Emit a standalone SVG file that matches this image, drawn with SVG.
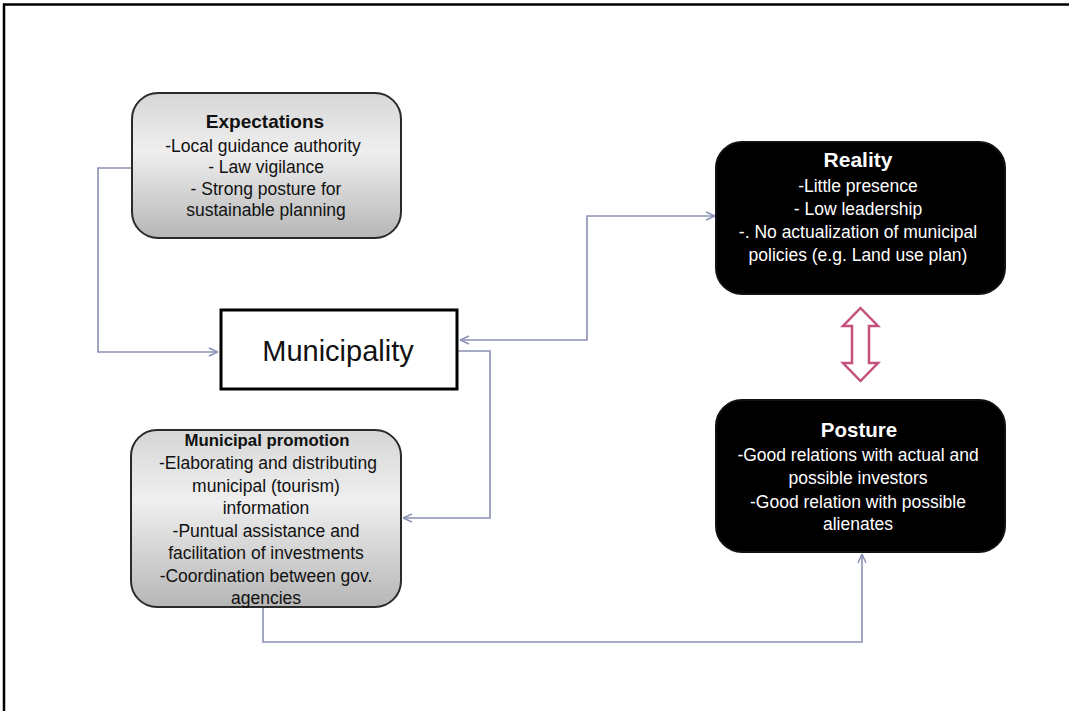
<svg xmlns="http://www.w3.org/2000/svg" width="1069" height="711" viewBox="0 0 1069 711">
<style>
.t{font-family:"Liberation Sans",Arial,sans-serif;font-size:17.5px;text-anchor:middle}
.b{font-weight:bold}
.dk{fill:#111}
.wt{fill:#fff}
.grey{fill:url(#g);stroke:#2a2a2a;stroke-width:2}
.blk{fill:#000;stroke:#111;stroke-width:2}
.con{fill:none;stroke:#8c90b4;stroke-width:1.6}
</style>
<defs>
<linearGradient id="g" x1="0" y1="0" x2="0" y2="1">
<stop offset="0" stop-color="#d6d6d6"/>
<stop offset="0.4" stop-color="#efefef"/>
<stop offset="1" stop-color="#b6b6b6"/>
</linearGradient>
<marker id="a" viewBox="0 0 10 10" refX="10" refY="5" markerWidth="10" markerHeight="10" markerUnits="userSpaceOnUse" orient="auto-start-reverse">
<path d="M1,1 L10,5 L1,9" fill="none" stroke="#8c90b4" stroke-width="1.4"/>
</marker>
</defs>
<rect x="0" y="0" width="1069" height="711" fill="#fff"/>
<path d="M4,711 V4.5 H1069" fill="none" stroke="#000" stroke-width="2.5"/>
<g id="connectors">
<path class="con" d="M132,168 H98 V352 H218" marker-end="url(#a)"/>
<path class="con" d="M460,340 H587 V216 H715" marker-start="url(#a)" marker-end="url(#a)"/>
<path class="con" d="M458,351 H490 V518 H403" marker-end="url(#a)"/>
<path class="con" d="M263,608 V642 H862 V554" marker-end="url(#a)"/>
<path id="double-arrow" d="M860.5,308 L878,326 L869,326 L869,363 L878,363 L860.5,381 L843,363 L852,363 L852,326 L843,326 Z" fill="#fff" stroke="#c4507c" stroke-width="2.5" stroke-linejoin="miter"/>
</g>
<g id="expectations">
<rect class="grey" x="132" y="93" width="269" height="145" rx="26"/>
<text class="t b dk" x="265" y="128" style="font-size:19px">Expectations</text>
<text class="t dk" x="263" y="152">-Local guidance authority</text>
<text class="t dk" x="266" y="173">- Law vigilance</text>
<text class="t dk" x="266" y="195">- Strong posture for</text>
<text class="t dk" x="266" y="216">sustainable planning</text>
</g>
<g id="municipality">
<rect x="221" y="310" width="236" height="79" fill="#fff" stroke="#000" stroke-width="3"/>
<text class="t dk" x="338" y="361" style="font-size:29px">Municipality</text>
</g>
<g id="promotion">
<rect class="grey" x="131" y="430" width="270" height="177" rx="26"/>
<text class="t b dk" x="267" y="446" style="font-size:16.8px">Municipal promotion</text>
<text class="t dk" x="268" y="469">-Elaborating and distributing</text>
<text class="t dk" x="266" y="492">municipal (tourism)</text>
<text class="t dk" x="266" y="514">information</text>
<text class="t dk" x="266" y="537">-Puntual assistance and</text>
<text class="t dk" x="266" y="559">facilitation of investments</text>
<text class="t dk" x="266" y="582">-Coordination between gov.</text>
<text class="t dk" x="266" y="604">agencies</text>
</g>
<g id="reality">
<rect class="blk" x="716" y="142" width="289" height="152" rx="26"/>
<text class="t b wt" x="858" y="167" style="font-size:21px">Reality</text>
<text class="t wt" x="858" y="192">-Little presence</text>
<text class="t wt" x="858" y="215">- Low leadership</text>
<text class="t wt" x="858" y="238">-. No actualization of municipal</text>
<text class="t wt" x="858" y="261">policies (e.g. Land use plan)</text>
</g>
<g id="posture">
<rect class="blk" x="716" y="400" width="289" height="152" rx="26"/>
<text class="t b wt" x="859" y="437" style="font-size:20.5px">Posture</text>
<text class="t wt" x="858" y="461">-Good relations with actual and</text>
<text class="t wt" x="858" y="484">possible investors</text>
<text class="t wt" x="858" y="508">-Good relation with possible</text>
<text class="t wt" x="858" y="530">alienates</text>
</g>
</svg>
